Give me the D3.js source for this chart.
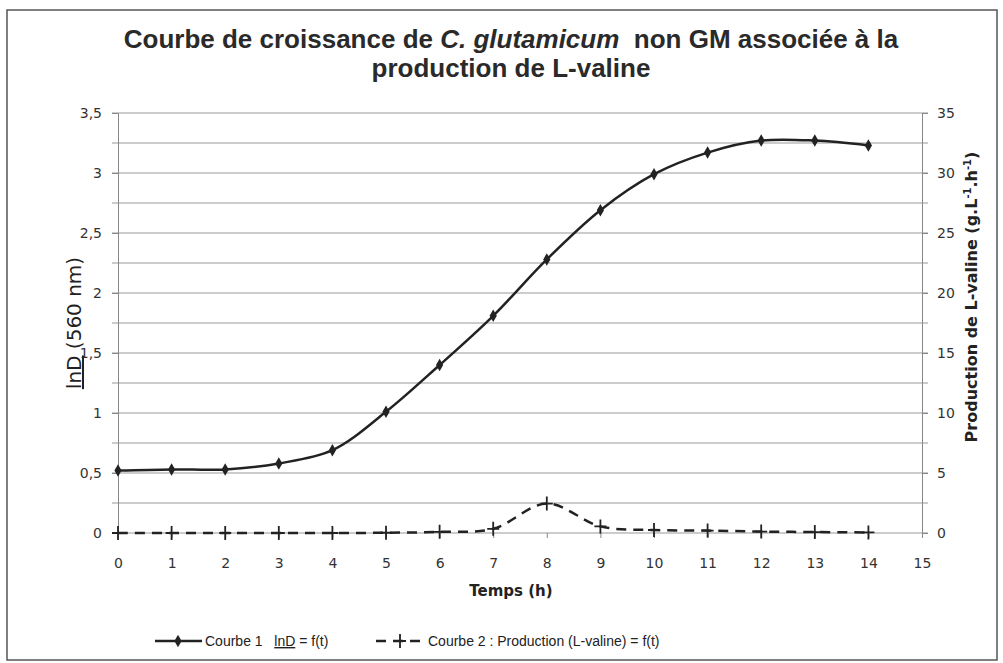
<!DOCTYPE html>
<meta charset="utf-8">
<style>
body { margin: 0; background: #fff; }
.tick text { font: 14px "DejaVu Sans", Verdana, sans-serif; fill: #333; }
.title { font: bold 26px "Liberation Sans", Arial, sans-serif; fill: #2a2a2a; text-anchor: middle; }
.ylab { font: 20px "DejaVu Sans", Verdana, sans-serif; fill: #222; text-anchor: middle; }
.ylab2 { font: bold 16px "DejaVu Sans", Verdana, sans-serif; fill: #222; text-anchor: middle; }
.xlab { font: bold 15px "DejaVu Sans", Verdana, sans-serif; fill: #222; text-anchor: middle; }
.leg { font: 14px "Liberation Sans", Arial, sans-serif; fill: #222; }
.grid line { stroke: #999; stroke-width: 1; }
</style>
<svg width="1003" height="663"></svg>
<script src="https://d3js.org/d3.v7.min.js"></script>
<script>
// temps (h)
var temps = [0, 1, 2, 3, 4, 5, 6, 7, 8, 9, 10, 11, 12, 13, 14];
// courbe 1 : lnD
var lnD = [0.52, 0.53, 0.53, 0.58, 0.69, 1.01, 1.40, 1.81, 2.28, 2.69, 2.99, 3.17, 3.27, 3.27, 3.23];
// courbe 2 : production de L-valine
var valine = [0, 0, 0, 0, 0, 0.02, 0.1, 0.35, 2.45, 0.55, 0.25, 0.2, 0.12, 0.08, 0.05];

var xTicks = [0, 1, 2, 3, 4, 5, 6, 7, 8, 9, 10, 11, 12, 13, 14, 15];
var yTicksL = [0, 0.5, 1, 1.5, 2, 2.5, 3, 3.5];
var yTicksR = [0, 5, 10, 15, 20, 25, 30, 35];
var gridTicks = [0, 0.25, 0.5, 0.75, 1, 1.25, 1.5, 1.75, 2, 2.25, 2.5, 2.75, 3, 3.25, 3.5];

var svg = d3.select("svg");

var x = d3.scaleLinear().domain([0, 15]).range([118, 922]);
var yL = d3.scaleLinear().domain([0, 3.5]).range([533, 113]);
var yR = d3.scaleLinear().domain([0, 35]).range([533, 113]);

var comma = function(d) { return String(d).replace(".", ","); };

// cadre
svg.append("rect")
  .attr("x", 7).attr("y", 10).attr("width", 990).attr("height", 650)
  .attr("fill", "none").attr("stroke", "#555").attr("stroke-width", 1.5);

// titre
var t = svg.append("text").attr("class", "title").attr("x", 511).attr("y", 48);
t.append("tspan").text("Courbe de croissance de ");
t.append("tspan").attr("font-style", "italic").text("C. glutamicum");
t.append("tspan").attr("xml:space", "preserve").text("  non GM associée à la");
svg.append("text").attr("class", "title").attr("x", 511).attr("y", 77).text("production de L-valine");

// grille
svg.append("g").attr("class", "grid")
  .selectAll("line").data(gridTicks).enter().append("line")
  .attr("x1", x(0) - 6).attr("x2", x(15) + 6)
  .attr("y1", function(d) { return yL(d); })
  .attr("y2", function(d) { return yL(d); });

// axes
var axL = svg.append("g").attr("transform", "translate(" + x(0) + ",0)")
  .call(d3.axisLeft(yL).tickValues(yTicksL).tickFormat(comma).tickSize(6).tickPadding(10));
var axR = svg.append("g").attr("transform", "translate(" + x(15) + ",0)")
  .call(d3.axisRight(yR).tickValues(yTicksR).tickSize(6).tickPadding(9));
var axB = svg.append("g").attr("transform", "translate(0," + yL(0) + ")")
  .call(d3.axisBottom(x).tickValues(xTicks).tickSize(5).tickPadding(20));
[axL, axR, axB].forEach(function(a) {
  a.select(".domain").attr("stroke", "#888");
  a.selectAll(".tick line").attr("stroke", "#888");
});
axB.select(".domain").remove();

// titres des axes
svg.append("text").attr("class", "ylab")
  .attr("transform", "translate(81,323) rotate(-90)")
  .call(function(s) {
    s.append("tspan").attr("text-decoration", "underline").text("lnD");
    s.append("tspan").text(" (560 nm)");
  });
var r = svg.append("text").attr("class", "ylab2")
  .attr("transform", "translate(977,297) rotate(-90)");
r.append("tspan").text("Production de L-valine (g.L");
r.append("tspan").attr("font-size", "10px").attr("dy", "-6").text("-1");
r.append("tspan").attr("dy", "6").text(".h");
r.append("tspan").attr("font-size", "10px").attr("dy", "-6").text("-1");
r.append("tspan").attr("dy", "6").text(")");

svg.append("text").attr("class", "xlab").attr("x", 511).attr("y", 596).text("Temps (h)");

// courbes
var line1 = d3.line()
  .x(function(d, i) { return x(temps[i]); })
  .y(function(d) { return yL(d); })
  .curve(d3.curveCatmullRom.alpha(0.5));
var line2 = d3.line()
  .x(function(d, i) { return x(temps[i]); })
  .y(function(d) { return yR(d); })
  .curve(d3.curveCatmullRom.alpha(0.5));

svg.append("path").datum(valine)
  .attr("d", line2).attr("fill", "none")
  .attr("stroke", "#222").attr("stroke-width", 2.5).attr("stroke-dasharray", "10,7");
svg.append("path").datum(lnD)
  .attr("d", line1).attr("fill", "none")
  .attr("stroke", "#222").attr("stroke-width", 2.5);

var diamond = d3.symbol().type(d3.symbolDiamond).size(45);
svg.append("g").selectAll("path").data(lnD).enter().append("path")
  .attr("d", diamond)
  .attr("transform", function(d, i) { return "translate(" + x(temps[i]) + "," + yL(d) + ")"; })
  .attr("fill", "#222");

var plus = "M-6,0H6M0,-7V7";
svg.append("g").selectAll("path").data(valine).enter().append("path")
  .attr("d", plus)
  .attr("transform", function(d, i) { return "translate(" + x(temps[i]) + "," + yR(d) + ")"; })
  .attr("stroke", "#222").attr("stroke-width", 1.8).attr("fill", "none");

// légende
var lg = svg.append("g").attr("transform", "translate(0,641)");
lg.append("line").attr("x1", 155).attr("x2", 202).attr("stroke", "#222").attr("stroke-width", 2.5);
lg.append("path").attr("d", diamond).attr("transform", "translate(178,0)").attr("fill", "#222");
var l1 = lg.append("text").attr("class", "leg").attr("x", 205).attr("y", 5).attr("xml:space", "preserve");
l1.append("tspan").text("Courbe 1   ");
l1.append("tspan").attr("text-decoration", "underline").text("lnD");
l1.append("tspan").text(" = f(t)");
lg.append("line").attr("x1", 376).attr("x2", 424).attr("stroke", "#222").attr("stroke-width", 2.5).attr("stroke-dasharray", "10,7");
lg.append("path").attr("d", plus).attr("transform", "translate(400,0)").attr("stroke", "#222").attr("stroke-width", 1.8);
lg.append("text").attr("class", "leg").attr("x", 428).attr("y", 5).text("Courbe 2 : Production (L-valine) = f(t)");
</script>
